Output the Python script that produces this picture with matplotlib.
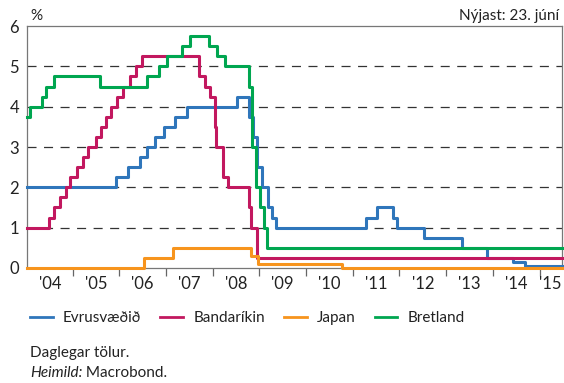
import pandas as pd
import matplotlib.pyplot as plt

plt.rcParams['font.family'] = ['Lato', 'DejaVu Sans']

# upphaf og endir gagna
start = "2004-01-12"
end = "2015-06-23"

ez_dates = [start, "2005-12-06", "2006-03-08", "2006-06-15", "2006-08-09", "2006-10-11",
            "2006-12-13", "2007-03-14", "2007-06-13", "2008-07-09", "2008-10-15",
            "2008-11-12", "2008-12-10", "2009-01-21", "2009-03-11", "2009-04-08",
            "2009-05-13", "2011-04-13", "2011-07-13", "2011-11-09", "2011-12-14",
            "2012-07-11", "2013-05-08", "2013-11-13", "2014-06-11", "2014-09-10", end]
ez_rates = [2.0, 2.25, 2.5, 2.75, 3.0, 3.25, 3.5, 3.75, 4.0, 4.25, 3.75, 3.25, 2.5,
            2.0, 1.5, 1.25, 1.0, 1.25, 1.5, 1.25, 1.0, 0.75, 0.5, 0.25, 0.15, 0.05, 0.05]

us_dates = [start, "2004-06-30", "2004-08-10", "2004-09-21", "2004-11-10", "2004-12-14",
            "2005-02-02", "2005-03-22", "2005-05-03", "2005-06-30", "2005-08-09",
            "2005-09-20", "2005-11-01", "2005-12-13", "2006-01-31", "2006-03-28",
            "2006-05-10", "2006-06-29", "2007-09-18", "2007-10-31", "2007-12-11",
            "2008-01-22", "2008-01-30", "2008-03-18", "2008-04-30", "2008-10-08",
            "2008-10-29", "2008-12-16", end]
us_rates = [1.0, 1.25, 1.5, 1.75, 2.0, 2.25, 2.5, 2.75, 3.0, 3.25, 3.5, 3.75, 4.0,
            4.25, 4.5, 4.75, 5.0, 5.25, 4.75, 4.5, 4.25, 3.5, 3.0, 2.25, 2.0, 1.5,
            1.0, 0.25, 0.25]

jp_dates = [start, "2006-07-14", "2007-02-21", "2008-10-31", "2008-12-19", "2010-10-05", end]
jp_rates = [0.0, 0.25, 0.5, 0.3, 0.1, 0.0, 0.0]

uk_dates = [start, "2004-02-05", "2004-05-06", "2004-06-10", "2004-08-05", "2005-08-04",
            "2006-08-03", "2006-11-09", "2007-01-11", "2007-05-10", "2007-07-05",
            "2007-12-06", "2008-02-07", "2008-04-10", "2008-10-08", "2008-11-06",
            "2008-12-04", "2009-01-08", "2009-02-05", "2009-03-05", end]
uk_rates = [3.75, 4.0, 4.25, 4.5, 4.75, 4.5, 4.75, 5.0, 5.25, 5.5, 5.75, 5.5, 5.25,
            5.0, 4.5, 3.0, 2.0, 1.5, 1.0, 0.5, 0.5]

series = [
    ("Evrusvæðið", ez_dates, ez_rates, "#2f76bb"),
    ("Bandaríkin", us_dates, us_rates, "#c2185f"),
    ("Japan", jp_dates, jp_rates, "#f7941d"),
    ("Bretland", uk_dates, uk_rates, "#00a650"),
]

years = list(range(2004, 2016))
year_labels = ["'04", "'05", "'06", "'07", "'08", "'09", "'10", "'11", "'12", "'13", "'14", "'15"]

FS = 11
TXT = '#222222'


def to_year(d):
    d = pd.Timestamp(d)
    return d.year + (d.dayofyear - 1) / (366 if d.is_leap_year else 365)


fig = plt.figure(figsize=(5.64, 3.83), dpi=100)
ax = fig.add_axes([0.0484, 0.3003, 0.9475, 0.6317])

for name, dates, vals, col in series:
    x = [to_year(d) for d in dates]
    ax.plot(x, vals, drawstyle='steps-post', color=col, lw=2.2, label=name,
            clip_on=False, zorder=3)

x0, x1 = to_year(start), to_year(end)
ax.set_xlim(x0, x1)
ax.set_ylim(0, 6)

# lárétt strikalínur
for v in range(1, 6):
    ax.axhline(v, color='#333333', lw=0.9, dashes=(6.5 / 0.9, 5.4 / 0.9), zorder=1)

ax.set_yticks(range(0, 7))
ax.tick_params(axis='y', length=0, pad=6, labelsize=FS + 1, colors=TXT)

ax.set_xticks(years[1:])
ax.set_xticklabels([])
ax.tick_params(axis='x', which='major', length=6, width=0.9, color='#666666')
mids = []
for y in years:
    a = max(y, x0)
    b = min(y + 1, x1)
    mids.append((a + b) / 2)
ax.set_xticks(mids, minor=True)
ax.set_xticklabels(year_labels, minor=True)
ax.tick_params(axis='x', which='minor', length=0, pad=6, labelsize=FS + 1, colors=TXT)

for s in ax.spines.values():
    s.set_color('#777777')
    s.set_linewidth(0.9)

fig.text(30 / 564, 1 - 20 / 383, '%', fontsize=FS, va='baseline', ha='left', color=TXT)
fig.text(559 / 564, 1 - 20 / 383, 'Nýjast: 23. júní', fontsize=FS, va='baseline', ha='right',
         color=TXT)

fig.legend(loc='center left', bbox_to_anchor=(30 / 564, 1 - 318 / 383), ncol=4,
           frameon=False, fontsize=FS, handlelength=1.5, handletextpad=0.65,
           columnspacing=1.25, borderpad=0, borderaxespad=0, labelcolor=TXT)
for line in fig.legends[0].get_lines():
    line.set_linewidth(2)

fig.text(30 / 564, 1 - 357 / 383, 'Daglegar tölur.', fontsize=FS, va='baseline', color=TXT)
t = fig.text(30 / 564, 1 - 377 / 383, 'Heimild:', fontsize=FS, va='baseline',
             fontstyle='italic', color=TXT)
src = fig.text(0, 1 - 377 / 383, ' Macrobond.', fontsize=FS, va='baseline', color=TXT)
fig.canvas.draw()
bb = t.get_window_extent().transformed(fig.transFigure.inverted())
src.set_x(bb.x1)

fig.savefig('out.png', dpi=100)
